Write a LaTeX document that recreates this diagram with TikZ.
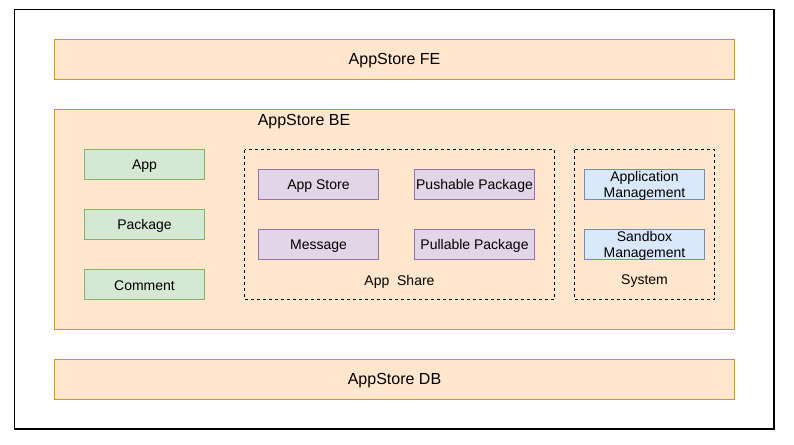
\documentclass[tikz,border=0pt]{standalone}
\usepackage{fontspec}
\setmainfont{Liberation Sans}
\definecolor{orfill}{HTML}{FFE6CC}
\definecolor{ordraw}{HTML}{D79B00}
\definecolor{grfill}{HTML}{D5E8D4}
\definecolor{grdraw}{HTML}{82B366}
\definecolor{pufill}{HTML}{E1D5E7}
\definecolor{pudraw}{HTML}{9673A6}
\definecolor{blfill}{HTML}{DAE8FC}
\definecolor{bldraw}{HTML}{6C8EBF}
\tikzset{
  layer/.style={draw=ordraw, fill=orfill, line width=1pt},
  greenbox/.style={draw=grdraw, fill=grfill, line width=0.9pt},
  purplebox/.style={draw=pudraw, fill=pufill, line width=0.9pt},
  bluebox/.style={draw=bldraw, fill=blfill, line width=0.9pt},
  group/.style={draw=black, dash pattern=on 3pt off 3pt, line width=0.9pt},
  big/.style={font=\fontsize{16}{19}\selectfont, yshift=-1.5pt},
  small/.style={font=\fontsize{14}{16}\selectfont, align=center, yshift=-1.5pt},
}
\begin{document}
\begin{tikzpicture}[x=1pt,y=-1pt]
\useasboundingbox (0,0) rectangle (794,444);
\draw[line width=1.2pt] (14.5,9.5) rectangle (774,429);
% layers
\draw[layer] (54.5,39.5) rectangle (734.5,79);
\node[big] (fe) at (394.5,59.5) {AppStore FE};
\draw[layer] (54.5,109.5) rectangle (734.5,329);
\node[big] (be) at (304,120) {AppStore BE};
\draw[layer] (54.5,359.5) rectangle (734.5,399);
\node[big] (db) at (394.5,379.5) {AppStore DB};
% green
\draw[greenbox] (84.5,149.5) rectangle (204.5,179.5);
\node[small] (app) at (144.5,164.5) {App};
\draw[greenbox] (84.5,209.5) rectangle (204.5,239.5);
\node[small] (pkg) at (144.5,224.5) {Package};
\draw[greenbox] (84.5,269.5) rectangle (204.5,299.5);
\node[small] (cmt) at (144.5,284.5) {Comment};
% app share
\draw[group] (244.5,149.5) rectangle (554.5,299);
\node[small] (share) at (399.5,280) {App\ \ Share};
\draw[purplebox] (258.5,169.5) rectangle (378.5,199.5);
\node[small] (store) at (318.5,184.5) {App Store};
\draw[purplebox] (414.5,169.5) rectangle (534.5,199.5);
\node[small] (push) at (474.5,184.5) {Pushable Package};
\draw[purplebox] (258.5,229.5) rectangle (378.5,259.5);
\node[small] (msg) at (318.5,244.5) {Message};
\draw[purplebox] (414.5,229.5) rectangle (534.5,259.5);
\node[small] (pull) at (474.5,244.5) {Pullable Package};
% system
\draw[group] (574.5,149.5) rectangle (714.5,299);
\node[small] (sys) at (644.5,280) {System};
\draw[bluebox] (584.5,169.5) rectangle (704.5,199.5);
\node[small] (appm) at (644.5,184.5) {Application\\Management};
\draw[bluebox] (584.5,229.5) rectangle (704.5,259.5);
\node[small] (sbm) at (644.5,244.5) {Sandbox\\Management};
\end{tikzpicture}
\end{document}
